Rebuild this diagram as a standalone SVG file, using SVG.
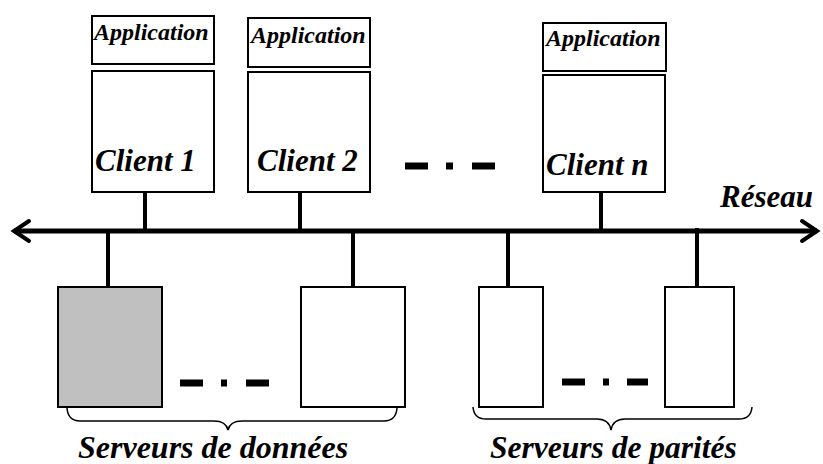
<svg xmlns="http://www.w3.org/2000/svg" width="823" height="464" viewBox="0 0 823 464">
<style>
  .box { fill: #ffffff; stroke: #000000; stroke-width: 2; }
  .grey { fill: #c0c0c0; }
  .conn { stroke: #000; stroke-width: 4; fill: none; }
  .net { stroke: #000; stroke-width: 5; fill: none; }
  .dash { stroke: #000; stroke-width: 7; fill: none; }
  .brace { stroke: #000; stroke-width: 1.5; fill: none; }
</style>
<defs>
  <marker id="chev" markerUnits="userSpaceOnUse" markerWidth="24" markerHeight="28" refX="20" refY="12" orient="auto-start-reverse" viewBox="0 0 24 24">
    <path d="M5,2 L20,12 L5,22" stroke="#000" stroke-width="4" fill="none" stroke-linecap="round"/>
  </marker>
</defs>
<rect width="823" height="464" fill="#ffffff"/>

<g id="connectors">
  <line class="net" x1="14" y1="231" x2="817" y2="231" marker-start="url(#chev)" marker-end="url(#chev)"/>
  <line class="conn" x1="145" y1="192" x2="145" y2="231"/>
  <line class="conn" x1="300" y1="192" x2="300" y2="231"/>
  <line class="conn" x1="601" y1="192" x2="601" y2="231"/>
  <line class="conn" x1="108" y1="231" x2="108" y2="287"/>
  <line class="conn" x1="353" y1="231" x2="353" y2="287"/>
  <line class="conn" x1="508" y1="231" x2="508" y2="287"/>
  <line class="conn" x1="697" y1="228" x2="697" y2="287"/>
</g>

<g id="client1">
  <rect class="box" x="92" y="16" width="122" height="48"/>
  <text x="94" y="40" font-family="Liberation Serif" font-size="24" font-weight="bold" font-style="italic">Application</text>
  <rect class="box" x="92" y="71" width="122" height="121"/>
  <text x="95" y="171" font-family="Liberation Serif" font-size="31" font-weight="bold" font-style="italic">Client 1</text>
</g>
<g id="client2">
  <rect class="box" x="248" y="18" width="122" height="49"/>
  <text x="251" y="43" font-family="Liberation Serif" font-size="24" font-weight="bold" font-style="italic">Application</text>
  <rect class="box" x="248" y="72" width="122" height="120"/>
  <text x="257" y="171" font-family="Liberation Serif" font-size="31" font-weight="bold" font-style="italic">Client 2</text>
</g>
<g id="clientn">
  <rect class="box" x="543" y="23" width="123" height="48"/>
  <text x="546" y="46" font-family="Liberation Serif" font-size="24" font-weight="bold" font-style="italic">Application</text>
  <rect class="box" x="543" y="75" width="122" height="117"/>
  <text x="546" y="175" font-family="Liberation Serif" font-size="31" font-weight="bold" font-style="italic">Client n</text>
</g>
<g id="client-ellipsis">
  <line class="dash" x1="405" y1="166" x2="428" y2="166"/>
  <line class="dash" x1="446" y1="166" x2="453" y2="166"/>
  <line class="dash" x1="472" y1="166" x2="495" y2="166"/>
</g>

<g id="reseau-label">
  <text x="720" y="207" font-family="Liberation Serif" font-size="31" font-weight="bold" font-style="italic">Réseau</text>
</g>

<g id="data-server1">
  <rect class="box grey" x="58" y="287" width="104" height="120"/>
</g>
<g id="data-server2">
  <rect class="box" x="301" y="287" width="104" height="120"/>
</g>
<g id="data-ellipsis">
  <line class="dash" x1="180" y1="383" x2="203" y2="383"/>
  <line class="dash" x1="221" y1="383" x2="227" y2="383"/>
  <line class="dash" x1="246" y1="383" x2="269" y2="383"/>
</g>
<g id="data-group">
  <path class="brace" d="M67,408 Q68,421 80,421 L214,421 Q226,421 228,430 Q230,421 242,421 L384,421 Q396,421 397,408"/>
  <text x="78" y="458" font-family="Liberation Serif" font-size="32" font-weight="bold" font-style="italic">Serveurs de données</text>
</g>

<g id="parity-server1">
  <rect class="box" x="479" y="287" width="64" height="120"/>
</g>
<g id="parity-server2">
  <rect class="box" x="665" y="287" width="69" height="120"/>
</g>
<g id="parity-ellipsis">
  <line class="dash" x1="562" y1="382" x2="585" y2="382"/>
  <line class="dash" x1="603" y1="382" x2="609" y2="382"/>
  <line class="dash" x1="627" y1="382" x2="648" y2="382"/>
</g>
<g id="parity-group">
  <path class="brace" d="M473,407 Q474,419 486,419 L597,419 Q609,419 611,430 Q613,419 625,419 L739,419 Q751,419 752,407"/>
  <text x="490" y="458" font-family="Liberation Serif" font-size="31.5" font-weight="bold" font-style="italic">Serveurs de parités</text>
</g>
</svg>
